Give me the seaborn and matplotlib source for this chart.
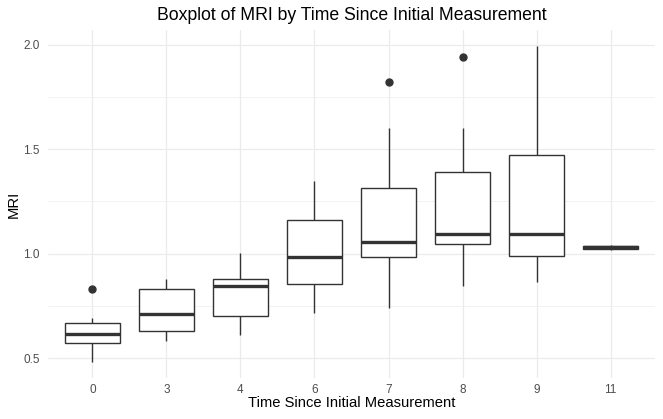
import numpy as np
import pandas as pd
import matplotlib
matplotlib.use("Agg")
import matplotlib.pyplot as plt
import seaborn as sns
from matplotlib.ticker import FixedLocator

time_labels = ["0", "3", "4", "6", "7", "8", "9", "11"]

mri_t0 = [0.481, 0.55, 0.571, 0.60, 0.617, 0.64, 0.668, 0.694, 0.830]
mri_t3 = [0.583, 0.61, 0.631, 0.68, 0.710, 0.78, 0.832, 0.85, 0.878]
mri_t4 = [0.609, 0.66, 0.702, 0.80, 0.845, 0.86, 0.881, 0.95, 1.003]
mri_t6 = [0.718, 0.80, 0.854, 0.93, 0.984, 1.08, 1.163, 1.25, 1.349]
mri_t7 = [0.742, 0.90, 0.982, 1.02, 1.058, 1.20, 1.314, 1.603, 1.820]
mri_t8 = [0.846, 0.98, 1.048, 1.07, 1.093, 1.25, 1.389, 1.603, 1.944]
mri_t9 = [0.864, 0.95, 0.989, 1.05, 1.095, 1.30, 1.474, 1.70, 1.995]
mri_t11 = [1.018, 1.025, 1.035, 1.042]

groups = [mri_t0, mri_t3, mri_t4, mri_t6, mri_t7, mri_t8, mri_t9, mri_t11]
df = pd.DataFrame({
    "time": [lab for lab, g in zip(time_labels, groups) for _ in g],
    "mri": [v for g in groups for v in g],
})

sns.set_style("white")
plt.rcParams["font.family"] = ["Liberation Sans", "DejaVu Sans"]

fig = plt.figure(figsize=(6.63, 4.19), dpi=100)
ax = fig.add_axes([48 / 663, 1 - 378 / 419, (655 - 48) / 663, (378 - 30) / 419])

line_c = "#333333"
sns.boxplot(
    data=df, x="time", y="mri", order=time_labels, ax=ax,
    width=0.75, color="white", linecolor=line_c, linewidth=1.0,
    showcaps=False, whis=1.5,
    medianprops=dict(linewidth=2.4, color=line_c),
    flierprops=dict(marker="o", markerfacecolor=line_c, markeredgecolor=line_c, markersize=5),
)

ax.set_xlim(-0.6, 7.6)
ax.set_ylim(0.405, 2.071)
ax.yaxis.set_major_locator(FixedLocator([0.5, 1.0, 1.5, 2.0]))
ax.yaxis.set_minor_locator(FixedLocator([0.75, 1.25, 1.75]))
ax.set_yticklabels(["0.5", "1.0", "1.5", "2.0"])

ax.set_axisbelow(True)
ax.grid(True, which="major", color="#EBEBEB", linewidth=0.9)
ax.grid(True, which="minor", axis="y", color="#EBEBEB", linewidth=0.45)
for s in ax.spines.values():
    s.set_visible(False)
ax.tick_params(axis="both", which="both", length=0, labelsize=8.45, labelcolor="#4D4D4D")
ax.tick_params(axis="y", pad=6)
ax.tick_params(axis="x", pad=4)

ax.set_xlabel("Time Since Initial Measurement", fontsize=10.6, color="black", labelpad=0.5)
ax.set_ylabel("MRI", fontsize=10.6, color="black", labelpad=1.5)
ax.set_title("Boxplot of MRI by Time Since Initial Measurement", fontsize=12.7, color="black", pad=7)

fig.savefig("out.png", dpi=100)
